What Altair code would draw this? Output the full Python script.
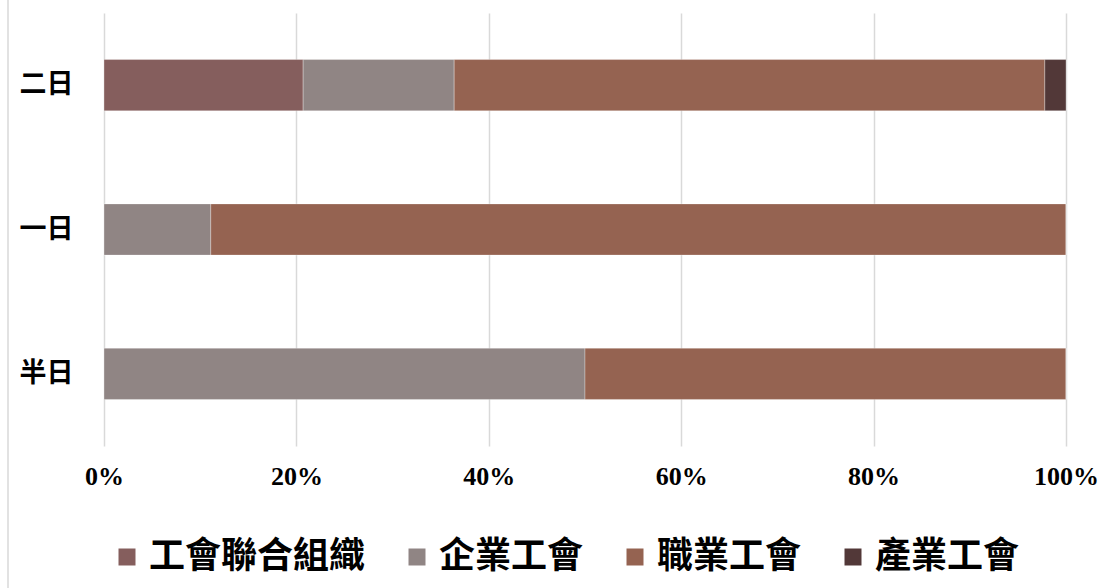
import altair as alt
import pandas as pd

categories = ["二日", "一日", "半日"]
series = ["工會聯合組織", "企業工會", "職業工會", "產業工會"]
colors = ["#855E5D", "#908584", "#956351", "#523838"]
# percentage shares per category, in series order
values = {
    "二日": [20.7, 15.7, 61.4, 2.2],
    "一日": [0.0, 11.1, 88.9, 0.0],
    "半日": [0.0, 50.0, 50.0, 0.0],
}
x_ticks = [0, 0.2, 0.4, 0.6, 0.8, 1.0]

rows = []
for c in categories:
    for i, s in enumerate(series):
        rows.append({"cat": c, "series": s, "order": i, "value": values[c][i]})
df = pd.DataFrame(rows)

cjk = "Noto Sans CJK TC"
serif = "Liberation Serif"

bars = alt.Chart(df).mark_bar(stroke="#ffffff", strokeWidth=0.6, strokeOpacity=0.5).encode(
    y=alt.Y("cat:N", sort=categories, title=None,
            scale=alt.Scale(paddingInner=0.645, paddingOuter=0.3225),
            axis=alt.Axis(labelFont=cjk, labelFontSize=27, labelFontWeight="bold",
                          labelColor="#000000", labelPadding=31, ticks=False,
                          domain=False, grid=False)),
    x=alt.X("value:Q", stack="normalize", title=None,
            scale=alt.Scale(domain=[0, 1], nice=False),
            axis=alt.Axis(values=x_ticks, format=".0%", labelFont=serif, labelFontSize=26,
                          labelFontWeight="bold", labelColor="#000000", labelPadding=17,
                          ticks=False, domain=False, grid=True, gridColor="#d9d9d9",
                          gridWidth=1.5, labelFlush=False)),
    color=alt.Color("series:N", sort=series,
                    scale=alt.Scale(domain=series, range=colors),
                    legend=alt.Legend(title=None, orient="none", direction="horizontal",
                                      columns=4, legendX=5, legendY=526,
                                      symbolType="square", symbolSize=289,
                                      symbolStrokeWidth=0, labelFont=cjk,
                                      labelFontSize=36, labelFontWeight="bold",
                                      labelColor="#000000", labelOffset=4,
                                      columnPadding=33, labelLimit=400)),
    order=alt.Order("order:Q"),
)

border = alt.Chart(pd.DataFrame({"v": [0]})).mark_rule(color="#d9d9d9", strokeWidth=1.5).encode(
    x=alt.value(-96), y=alt.value(-13), y2=alt.value(575)
)

chart = alt.layer(border, bars).properties(
    width=962, height=433,
    autosize=alt.AutoSizeParams(type="none"),
    padding={"left": 104, "top": 13, "right": 36, "bottom": 142},
).configure_view(stroke=None)

chart.save("out.html", embed_options={"renderer": "svg", "actions": False})
